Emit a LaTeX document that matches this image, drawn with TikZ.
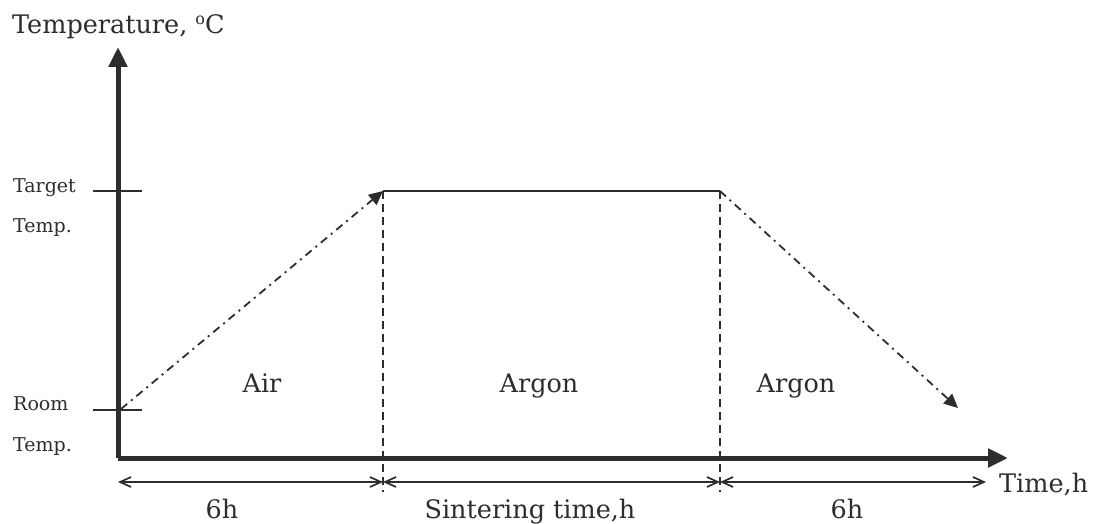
\documentclass[tikz,border=0pt]{standalone}
\usepackage{fontspec}
\setmainfont{DejaVu Serif}
\usetikzlibrary{arrows.meta}
\definecolor{ink}{RGB}{45,45,45}
\begin{document}
\begin{tikzpicture}[x=1pt,y=-1pt,
  axis/.style={ink,line width=5pt,-{Triangle[length=20pt,width=18pt]}},
  tickline/.style={ink,line width=1.6pt},
  dimline/.style={ink,line width=1.5pt,{Straight Barb[length=11pt,width=10pt,line width=1.7pt]}-{Straight Barb[length=11pt,width=10pt,line width=1.7pt]}},
  dashdot/.style={ink,line width=1.8pt,dash pattern=on 8pt off 5pt on 2pt off 5pt,-{Triangle[length=14pt,width=13pt]}},
  vdash/.style={ink,line width=1.4pt,dash pattern=on 8pt off 5pt},
  plateau/.style={ink,line width=2.2pt},
  big/.style={ink,font=\fontsize{25.5}{30}\selectfont,inner sep=0pt},
  small/.style={ink,font=\fontsize{19}{22}\selectfont,inner sep=0pt}]
\useasboundingbox (0,0) rectangle (1094,524);
% coordinates
\coordinate (O) at (118,458);
\coordinate (Ytop) at (118,47);
\coordinate (Xend) at (1008,458);
\coordinate (tt1) at (93,191);
\coordinate (tt2) at (142,191);
\coordinate (rt1) at (93,410);
\coordinate (rt2) at (142,410);
\coordinate (R) at (121,409);
\coordinate (T1) at (383,191);
\coordinate (T2) at (720,191);
\coordinate (E) at (958,408);
\coordinate (v1) at (383,492);
\coordinate (v2) at (720,492);
\coordinate (d0) at (118,482);
\coordinate (d1) at (383,482);
\coordinate (d2) at (720,482);
\coordinate (d3) at (986,482);
% axes
\draw[axis] (O) -- (Ytop);
\draw[axis] (O) -- (Xend);
% ticks
\draw[tickline] (tt1) -- (tt2);
\draw[tickline] (rt1) -- (rt2);
% profile
\draw[vdash] (T1) -- (v1);
\draw[vdash] (T2) -- (v2);
\draw[plateau] (T1) -- (T2);
\draw[dashdot] (R) -- (T1);
\draw[dashdot] (T2) -- (E);
% dimension lines
\draw[dimline] (d0) -- (d1);
\draw[dimline] (d1) -- (d2);
\draw[dimline] (d2) -- (d3);
% labels
\node[big,anchor=base west] (ylab) at (12,34) {Temperature, {\fontsize{16}{16}\selectfont\raisebox{9pt}{o}}C};
\node[small,anchor=base west] (tg1) at (13,192) {Target};
\node[small,anchor=base west] (tg2) at (13,232) {Temp.};
\node[small,anchor=base west] (rm1) at (13,410) {Room};
\node[small,anchor=base west] (rm2) at (13,451) {Temp.};
\node[big,anchor=base] (air) at (262,392) {Air};
\node[big,anchor=base] (ar1) at (539,392) {Argon};
\node[big,anchor=base] (ar2) at (796,392) {Argon};
\node[big,anchor=base] (h1) at (222,518) {6h};
\node[big,anchor=base] (st) at (530,518) {Sintering time,h};
\node[big,anchor=base] (h2) at (847,518) {6h};
\node[big,anchor=base west] (xlab) at (999,492) {Time,h};
\end{tikzpicture}
\end{document}
